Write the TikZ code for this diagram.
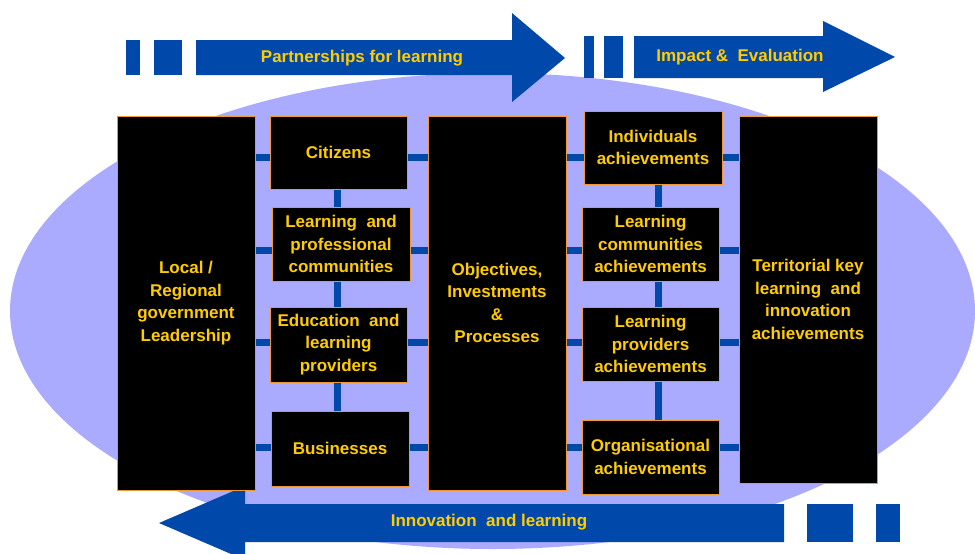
\documentclass[tikz,border=0pt]{standalone}
\usepackage{fontspec}
\setmainfont{Liberation Sans}
\usetikzlibrary{calc}

\definecolor{arrowblue}{RGB}{0,72,170}
\definecolor{cloudblue}{RGB}{170,170,255}
\definecolor{goldtext}{RGB}{255,204,0}
\definecolor{boxedge}{RGB}{240,150,50}

\tikzset{
	boxtext/.style={text=goldtext, font=\fontsize{17}{22.5}\selectfont\bfseries, align=center},
	blackbox/.style={boxtext, fill=black, draw=boxedge, line width=1pt, inner sep=0pt},
	tallbox/.style={blackbox, minimum width=138, minimum height=374},
	smallbox/.style={blackbox, minimum width=137, minimum height=74},
	link/.style={draw=arrowblue, line width=7pt},
	arrowlabel/.style={text=goldtext, font=\fontsize{17}{20}\selectfont\bfseries}
}

\begin{document}
\begin{tikzpicture}[x=1pt, y=-1pt]
			%%%%% START %%%%%
			\clip (0, 0) rectangle (975, 554);
			
			\fill[cloudblue] (492.5, 311) ellipse (482.5 and 238);
			
			% top arrows
			\fill[arrowblue] (126, 40) rectangle (140, 75);
			\fill[arrowblue] (154, 40) rectangle (182, 75);
			\fill[arrowblue] (196, 40) -- (512, 40) -- (512, 13) -- (565, 58) -- (512, 102) -- (512, 75) -- (196, 75) -- cycle;
			\node[arrowlabel] (partners) at (362, 58) {Partnerships for learning};
			
			\fill[arrowblue] (584, 36) rectangle (594, 78);
			\fill[arrowblue] (604, 36) rectangle (623, 78);
			\fill[arrowblue] (634, 36) -- (823, 36) -- (823, 21) -- (895, 57) -- (823, 92) -- (823, 78) -- (634, 78) -- cycle;
			\node[arrowlabel] (impact) at (740, 57) {Impact \&\ \ Evaluation};
			
			% bottom arrow
			\fill[arrowblue] (784, 504) -- (245, 504) -- (245, 486) -- (159, 523) -- (245, 560) -- (245, 542) -- (784, 542) -- cycle;
			\fill[arrowblue] (807, 504) rectangle (853, 542);
			\fill[arrowblue] (876, 504) rectangle (900, 542);
			\node[arrowlabel] (innovation) at (489, 522) {Innovation\ \ and learning};
			
			% connector rows
			\coordinate (r1) at (0, 157);
			\coordinate (r2) at (0, 250);
			\coordinate (r3) at (0, 342);
			\coordinate (r4) at (0, 447);
			
			% boxes
			\node[tallbox] (local) at (186, 303) {Local /\\Regional\\government\\Leadership};
			\node[smallbox, minimum height=73] (citizens) at (338.5, 152.5) {Citizens};
			\node[smallbox, minimum width=138] (profcom) at (341, 244) {Learning\ \ and\\professional\\communities};
			\node[smallbox, minimum height=75] (eduprov) at (338.5, 344.5) {Education\ \ and\\learning\\providers};
			\node[smallbox, minimum width=138, minimum height=75] (business) at (340, 448.5) {Businesses};
			\node[tallbox] (objectives) at (497, 303) {Objectives,\\Investments\\\&\\Processes};
			\node[smallbox, minimum width=138, minimum height=73] (indiv) at (653, 147.5) {Individuals\\achievements};
			\node[smallbox] (commach) at (650.5, 244) {Learning\\communities\\achievements};
			\node[smallbox] (provach) at (650.5, 344) {Learning\\providers\\achievements};
			\node[smallbox] (orgach) at (650.5, 457) {Organisational\\achievements};
			\node[tallbox, minimum height=367] (territory) at (808, 299.5) {Territorial key\\learning\ \ and\\innovation\\achievements};
			
			% horizontal links
			\path[link] (local.east |- r1) -- (citizens.west |- r1);
			\path[link] (citizens.east |- r1) -- (objectives.west |- r1);
			\path[link] (objectives.east |- r1) -- (indiv.west |- r1);
			\path[link] (indiv.east |- r1) -- (territory.west |- r1);
			
			\path[link] (local.east |- r2) -- (profcom.west |- r2);
			\path[link] (profcom.east |- r2) -- (objectives.west |- r2);
			\path[link] (objectives.east |- r2) -- (commach.west |- r2);
			\path[link] (commach.east |- r2) -- (territory.west |- r2);
			
			\path[link] (local.east |- r3) -- (eduprov.west |- r3);
			\path[link] (eduprov.east |- r3) -- (objectives.west |- r3);
			\path[link] (objectives.east |- r3) -- (provach.west |- r3);
			\path[link] (provach.east |- r3) -- (territory.west |- r3);
			
			\path[link] (local.east |- r4) -- (business.west |- r4);
			\path[link] (business.east |- r4) -- (objectives.west |- r4);
			\path[link] (objectives.east |- r4) -- (orgach.west |- r4);
			\path[link] (orgach.east |- r4) -- (territory.west |- r4);
			
			% vertical links
			\path[link] ([xshift=-1]citizens.south) -- ([xshift=-1]citizens.south |- profcom.north);
			\path[link] ([xshift=-1]citizens.south |- profcom.south) -- ([xshift=-1]citizens.south |- eduprov.north);
			\path[link] ([xshift=-1]citizens.south |- eduprov.south) -- ([xshift=-1]citizens.south |- business.north);
			\path[link] ([xshift=7.5]commach.north) -- ([xshift=7.5]commach.north |- indiv.south);
			\path[link] ([xshift=7.5]commach.south) -- ([xshift=7.5]provach.north);
			\path[link] ([xshift=7.5]provach.south) -- ([xshift=7.5]orgach.north);
			
			%%%%% END %%%%%
\end{tikzpicture}
\end{document}
